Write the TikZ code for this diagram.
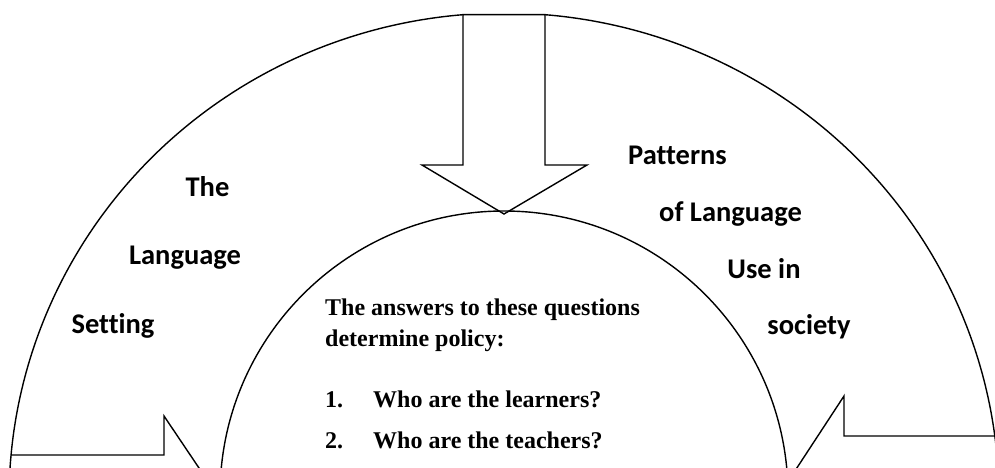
\documentclass[tikz,border=0pt]{standalone}
\usepackage{fontspec}
\newfontfamily\calfont[Ligatures={NoCommon,NoContextual}]{Carlito}
\newfontfamily\serfont{Liberation Serif}
\begin{document}
\begin{tikzpicture}[x=1pt,y=-1pt,
  shapeline/.style={draw=black, line width=1.4pt, line join=miter},
  sidelabel/.style={font=\calfont\bfseries\fontsize{28.5}{30}\selectfont, anchor=base, inner sep=0pt},
  qtext/.style={font=\serfont\bfseries\fontsize{24}{28}\selectfont, anchor=base west, inner sep=0pt}]
\useasboundingbox (0,0) rectangle (995,468);
\clip (0,0) rectangle (995,468);
% outer ring, left part
\draw[shapeline] plot[domain=187:94.75,samples=160] ({504+495*cos(\x)},{499-486*sin(\x)});
% outer ring, right part
\draw[shapeline] plot[domain=85.25:-7,samples=160] ({504+495*cos(\x)},{499-486*sin(\x)});
% top down arrow
\coordinate (tl) at (463,14.7);
\coordinate (tr) at (545,14.7);
\draw[shapeline] (tl) -- (463,165) -- (422,165) -- (504,214) -- (587,165) -- (545,165) -- (tr) -- cycle;
% inner circle
\draw[shapeline] (504,495) circle[radius=284pt];
% left arrow
\coordinate (la) at (11,455);
\draw[shapeline] (la) -- (164,455) -- (164,416) -- (232,517);
% right arrow
\coordinate (ra) at (996,436);
\draw[shapeline] (ra) -- (844,436) -- (844,396) -- (768,512);
% left labels
\node[sidelabel] (l1) at (207.5,196) {The};
\node[sidelabel] (l2) at (185,264) {Language};
\node[sidelabel] (l3) at (113,333) {Setting};
% right labels
\node[sidelabel] (r1) at (677.5,164) {Patterns};
\node[sidelabel] (r2) at (730.5,221) {of Language};
\node[sidelabel] (r3) at (764,278) {Use in};
\node[sidelabel] (r4) at (809,334) {society};
% inner text
\node[qtext] (c1) at (325,315.5) {The answers to these questions};
\node[qtext] (c2) at (325,346.5) {determine policy:};
\node[qtext] (n1) at (325,407) {1.};
\node[qtext] (q1) at (373,407) {Who are the learners?};
\node[qtext] (n2) at (325,448.5) {2.};
\node[qtext] (q2) at (373,448.5) {Who are the teachers?};
\end{tikzpicture}
\end{document}
